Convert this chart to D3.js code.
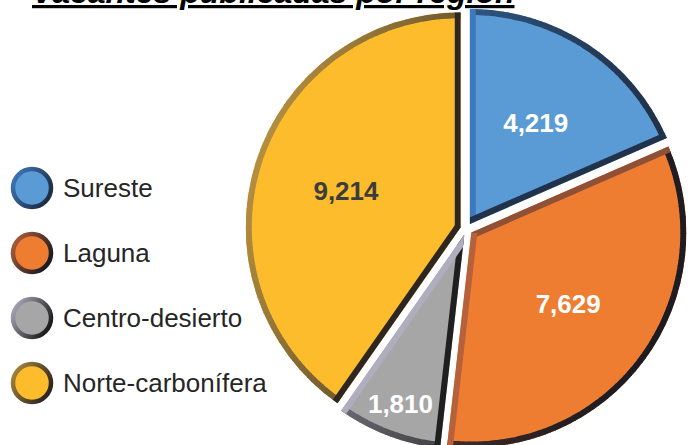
<!DOCTYPE html>
<html>
<head>
<meta charset="utf-8">
<script src="https://cdn.jsdelivr.net/npm/d3@7"></script>
<style>
  html, body { margin: 0; padding: 0; background: #ffffff; }
  svg { display: block; }
</style>
</head>
<body>
<svg id="chart" width="691" height="445"></svg>
<script>
// ---- data ----
const categories = ["Sureste", "Laguna", "Centro-desierto", "Norte-carbonífera"];
const values = [4219, 7629, 1810, 9214];
const titleText = "Vacantes publicadas por región";

// ---- styles ----
const fillColors = ["#5a9ad5", "#ee7d32", "#a6a6a6", "#fcbc2b"];
const lightEdge = ["#3e7cc4", "#b8623c", "#b4b2c4", "#b38d40"];
const darkEdge  = ["#1f2e42", "#1d1c22", "#1f1f1f", "#2e2721"];
const labelColors = ["#ffffff", "#ffffff", "#ffffff", "#3c3c3c"];

const W = 691, H = 445;
const svg = d3.select("#chart");
const cx = 466.5, cy = 229, R = 215, explode = 6, bw = 6;
const fmt = d3.format(",");

// light direction (from left / slightly above)
const Lx = -0.95, Ly = -0.3, Ln = Math.hypot(Lx, Ly);
function edgeColor(i, nx, ny) {
  const s = (nx * Lx + ny * Ly) / Ln;
  const t = Math.pow((s + 1) / 2, 1.6);
  return d3.interpolateRgb(darkEdge[i], lightEdge[i])(t);
}

// ---- title ----
svg.append("text")
  .attr("x", 32).attr("y", 3)
  .attr("font-family", "'Liberation Sans', Arial, sans-serif")
  .attr("font-size", 32).attr("font-weight", "bold").attr("font-style", "italic")
  .style("text-decoration", "underline")
  .attr("fill", "#000")
  .text(titleText);

// ---- pie ----
const pie = d3.pie().sort(null).value(d => d);
const arcs = pie(values);
const arcFill = d3.arc().innerRadius(0).outerRadius(R);
const defs = svg.append("defs");
const total = d3.sum(values);

arcs.forEach((p, i) => {
  const mid = (p.startAngle + p.endAngle) / 2;
  const ox = explode * Math.sin(mid), oy = -explode * Math.cos(mid);
  const g = svg.append("g").attr("transform", `translate(${cx + ox},${cy + oy})`);

  defs.append("clipPath").attr("id", "clip" + i)
    .append("path").attr("d", arcFill(p));

  g.append("path").attr("d", arcFill(p)).attr("fill", fillColors[i]);

  const bg = g.append("g").attr("clip-path", `url(#clip${i})`);
  // arc border, in small pieces shaded by outward normal
  const step = Math.PI / 120;
  const n = Math.max(1, Math.ceil((p.endAngle - p.startAngle) / step));
  const seg = d3.arc().innerRadius(R - bw).outerRadius(R + 1);
  for (let k = 0; k < n; k++) {
    const a0 = p.startAngle + (p.endAngle - p.startAngle) * k / n;
    const a1 = p.startAngle + (p.endAngle - p.startAngle) * (k + 1) / n;
    const am = (a0 + a1) / 2;
    bg.append("path")
      .attr("d", seg({startAngle: a0, endAngle: Math.min(p.endAngle, a1 + 0.004)}))
      .attr("fill", edgeColor(i, Math.sin(am), -Math.cos(am)));
  }
  // radial edges
  const edges = [
    {a: p.startAngle, nx: -Math.cos(p.startAngle), ny: -Math.sin(p.startAngle)},
    {a: p.endAngle, nx: Math.cos(p.endAngle), ny: Math.sin(p.endAngle)}
  ];
  edges.forEach(e => {
    bg.append("line")
      .attr("x1", 0).attr("y1", 0)
      .attr("x2", (R + 2) * Math.sin(e.a)).attr("y2", -(R + 2) * Math.cos(e.a))
      .attr("stroke", edgeColor(i, e.nx, e.ny))
      .attr("stroke-width", bw * 2);
  });

  // label
  const frac = p.value / total;
  const lr = frac < 0.1 ? R * 0.84 : R * 0.56;
  const lab = d3.arc().innerRadius(lr).outerRadius(lr).centroid(p);
  g.append("text")
    .attr("x", lab[0]).attr("y", lab[1])
    .attr("text-anchor", "middle").attr("dominant-baseline", "central")
    .attr("font-family", "'Liberation Sans', Arial, sans-serif")
    .attr("font-size", 26).attr("font-weight", "bold")
    .attr("fill", labelColors[i])
    .text(fmt(p.value));
});

// ---- legend ----
const legendY = d3.scalePoint().domain(categories).range([188, 383]);
categories.forEach((c, i) => {
  const gid = "lg" + i;
  const grad = defs.append("linearGradient").attr("id", gid)
    .attr("x1", "0").attr("y1", "0").attr("x2", "1").attr("y2", "0.6");
  grad.append("stop").attr("offset", "0%").attr("stop-color", lightEdge[i]);
  grad.append("stop").attr("offset", "100%").attr("stop-color", darkEdge[i]);
  const y = legendY(c);
  svg.append("circle")
    .attr("cx", 32).attr("cy", y).attr("r", 19)
    .attr("fill", fillColors[i])
    .attr("stroke", `url(#${gid})`).attr("stroke-width", 4.5);
  svg.append("text")
    .attr("x", 63).attr("y", y)
    .attr("dominant-baseline", "central")
    .attr("font-family", "'Liberation Sans', Arial, sans-serif")
    .attr("font-size", 26)
    .attr("fill", "#262626")
    .text(c);
});
</script>
</body>
</html>
